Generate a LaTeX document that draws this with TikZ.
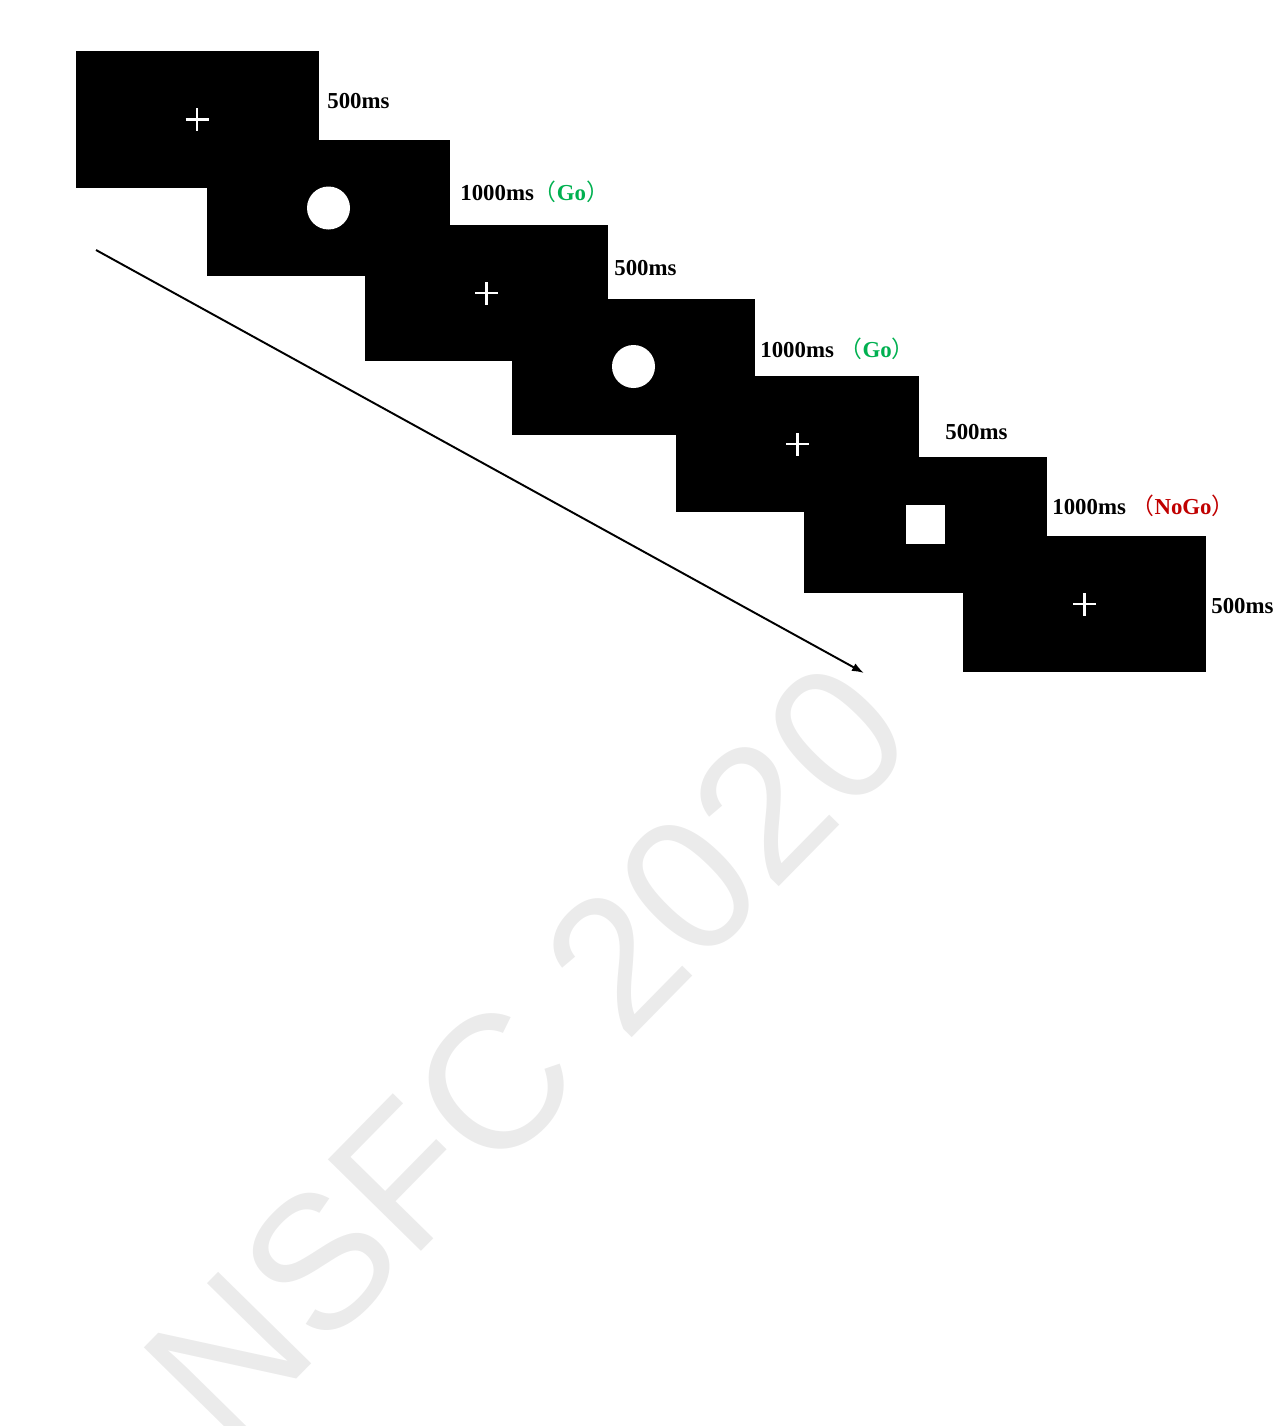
\documentclass[tikz,border=0pt]{standalone}
\usepackage{fontspec}
\setmainfont{Liberation Serif}
\newfontfamily\cjk{Noto Sans CJK SC}
\newfontfamily\markfont{Liberation Sans}
\usetikzlibrary{arrows.meta,positioning}
\definecolor{gogreen}{RGB}{0,176,80}
\definecolor{nogored}{RGB}{192,0,0}
\definecolor{markgray}{RGB}{235,235,235}
\newcommand{\gotag}{\textcolor{gogreen}{{\cjk\mdseries （}Go{\cjk\mdseries ）}}}
\newcommand{\nogotag}{\textcolor{nogored}{{\cjk\mdseries （}NoGo{\cjk\mdseries ）}}}

\begin{document}
\begin{tikzpicture}[
  font=\fontsize{13}{15}\selectfont\bfseries,
  screen/.style={fill=black,draw=none,minimum width=4.86cm,
    minimum height=2.72cm,inner sep=0pt},
  fixcross/.style={draw=white,line width=1.6pt},
  gostim/.style={circle,fill=white,minimum size=0.86cm,inner sep=0pt},
  nogostim/.style={rectangle,fill=white,minimum size=0.78cm,inner sep=0pt},
  timing/.style={anchor=west,inner sep=0pt,text=black},
  timeline/.style={-{Latex[length=2.4mm,width=1.7mm]},draw=black,line width=1.1pt},
  watermark/.style={text=markgray,font=\markfont\fontsize{108}{108}\selectfont,
    rotate=45.5,inner sep=0pt}]
\useasboundingbox (0,0) rectangle (25.64,-28.52);

% watermark
\node[watermark] (mark) at (10.54,-21.02) {NSFC 2020};

% screens
\node[screen] (s1) at (3.94,-2.39) {};
\node[screen] (s2) at (6.57,-4.16) {};
\node[screen] (s3) at (9.73,-5.86) {};
\node[screen] (s4) at (12.67,-7.33) {};
\node[screen] (s5) at (15.95,-8.88) {};
\node[screen] (s6) at (18.51,-10.49) {};
\node[screen] (s7) at (21.69,-12.08) {};

% stimuli
\foreach \s in {s1,s3,s5,s7}{
  \draw[fixcross] (\s) +(-0.23,0) -- +(0.23,0) (\s) +(0,-0.23) -- +(0,0.23);
}
\node[gostim] (go1) at (s2) {};
\node[gostim] (go2) at (s4) {};
\node[nogostim] (nogo) at (s6) {};

% timing labels
\node[timing] (t1) at (6.54,-2.02) {500ms};
\node[timing] (t2) at (9.20,-3.84) {1000ms\gotag};
\node[timing] (t3) at (12.28,-5.36) {500ms};
\node[timing] (t4) at (15.20,-6.98) {1000ms \gotag};
\node[timing] (t5) at (18.90,-8.64) {500ms};
\node[timing] (t6) at (21.04,-10.12) {1000ms \nogotag};
\node[timing] (t7) at (24.22,-12.12) {500ms};

% time axis
\coordinate (tstart) at (1.92,-5.00);
\coordinate (tend) at (17.28,-13.46);
\draw[timeline] (tstart) -- (tend);
\end{tikzpicture}
\end{document}
